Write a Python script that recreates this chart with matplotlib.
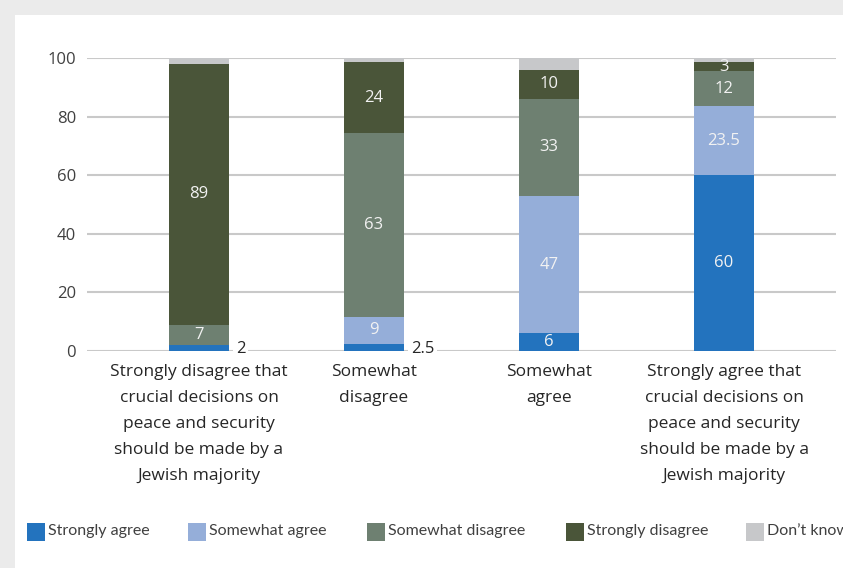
import matplotlib
matplotlib.use("Agg")
import matplotlib.pyplot as plt
from matplotlib.patches import Rectangle
import numpy as np

plt.rcParams['font.family'] = ['Open Sans', 'DejaVu Sans']

categories = [
    "Strongly disagree that\ncrucial decisions on\npeace and security\nshould be made by a\nJewish majority",
    "Somewhat\ndisagree",
    "Somewhat\nagree",
    "Strongly agree that\ncrucial decisions on\npeace and security\nshould be made by a\nJewish majority",
]
series_names = ["Strongly agree", "Somewhat agree", "Somewhat disagree",
                "Strongly disagree", "Don\u2019t know"]
strongly_agree = [2, 2.5, 6, 60]
somewhat_agree = [0, 9, 47, 23.5]
somewhat_disagree = [7, 63, 33, 12]
strongly_disagree = [89, 24, 10, 3]
dont_know = [2, 1.5, 4, 1.5]
yticks = [0, 20, 40, 60, 80, 100]

colors = ["#2373be", "#95aed9", "#6e8071", "#4a5539", "#c7c8ca"]
series = [strongly_agree, somewhat_agree, somewhat_disagree, strongly_disagree, dont_know]

W, H = 843, 568
fig = plt.figure(figsize=(W / 100, H / 100), dpi=100, facecolor="#ebebeb")
# white panel behind everything
fig.patches.append(Rectangle((15 / W, 0), 1, 1 - 15 / H, transform=fig.transFigure,
                             facecolor="white", edgecolor="none", zorder=-5))

ax = fig.add_axes([87 / W, 1 - 351 / H, (836 - 87) / W, (351 - 58) / H])
ax.set_zorder(2)
ax.set_facecolor("none")
x = np.arange(len(categories))
bottom = np.zeros(len(categories))
for vals, c, name in zip(series, colors, series_names):
    vals = np.array(vals, dtype=float)
    ax.bar(x, vals, 0.343, bottom=bottom, color=c, zorder=3, label=name)
    if name != "Don\u2019t know":
        for i, (v, b) in enumerate(zip(vals, bottom)):
            if v <= 0:
                continue
            if name == "Strongly agree" and v <= 2.5:
                ax.text(i + 0.172 + 0.04, b + v / 2 - 0.4, f"{v:g}", ha="left", va="center",
                        fontsize=12, color="#262626", zorder=5,
                        bbox=dict(facecolor="white", edgecolor="none", pad=2))
            else:
                ax.text(i, b + v / 2, f"{v:g}", ha="center", va="center",
                        fontsize=12, color="#f2f2f2", zorder=5)
    bottom += vals

ax.set_ylim(0, 100)
ax.set_xlim(-0.64, 3.64)
ax.set_yticks(yticks)
ax.set_xticks(x)
ax.set_xticklabels(categories, linespacing=1.85, fontsize=12.5, color="#262626")
ax.tick_params(axis="y", length=0, pad=8, labelsize=12, labelcolor="#404040")
ax.tick_params(axis="x", length=0, pad=9)
ax.grid(axis="y", color="#c9c9c9", linewidth=1.5, zorder=1)
for s in ax.spines.values():
    s.set_visible(False)

# legend row
leg_x = [27, 188, 367, 566, 746]
for lx, c, name in zip(leg_x, colors, series_names):
    fig.patches.append(Rectangle((lx / W, 1 - 541 / H), 18 / W, 18 / H,
                                 transform=fig.transFigure, facecolor=c,
                                 edgecolor="none", zorder=2))
    fig.text((lx + 21) / W, 1 - 531 / H, name, ha="left", va="center",
             fontsize=11.5, color="#404040", family=["Lato", "DejaVu Sans"])

fig.savefig("out.png", dpi=100, facecolor=fig.get_facecolor())
